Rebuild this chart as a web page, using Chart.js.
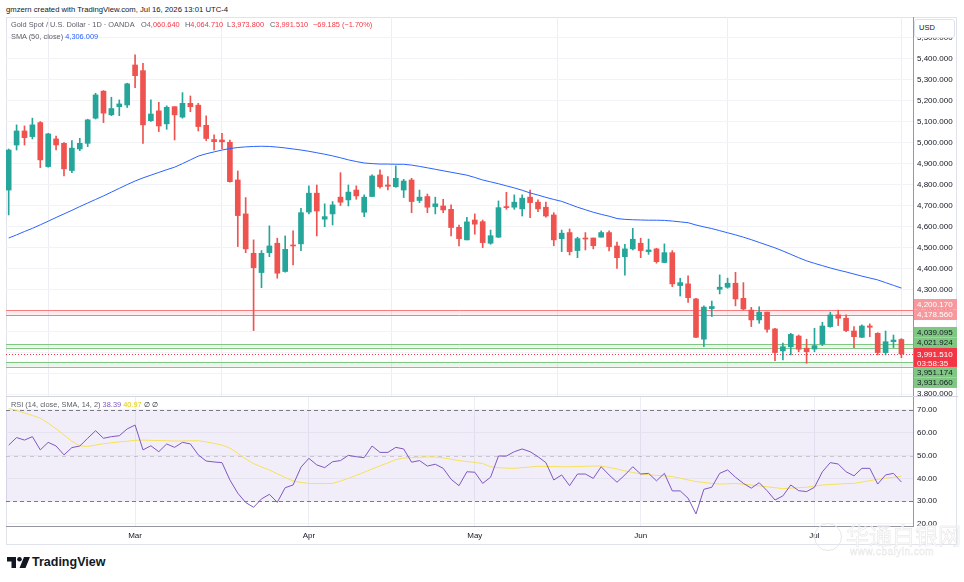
<!DOCTYPE html>
<html lang="en">
<head>
<meta charset="UTF-8" />
<title>Gold Spot / U.S. Dollar · 1D · OANDA</title>
<script src="https://cdn.jsdelivr.net/npm/chart.js"></script>
<style>
  body {
    margin: 0;
    width: 964px;
    height: 582px;
    background: #fff;
    font-family: Arial, "Liberation Sans", sans-serif;
    color: #131722;
    position: relative;
    overflow: hidden;
  }
  .abs { position: absolute; white-space: nowrap; }
  #frame { left: 6px; top: 17px; width: 951px; height: 528px; border: 1px solid #e0e3eb; box-sizing: border-box; }
  #sep { left: 6px; top: 396px; width: 952px; height: 0; border-top: 1px solid #d1d4dc; }
  #hdr { left: 6px; top: 5px; font-size: 7.7px; line-height: 10px; color: #131722; }
  .leg { font-size: 7.4px; line-height: 10px; color: #5d606b; }
  .red { color: #f23645; }
  .blue { color: #2962ff; }
  .purple { color: #7e57c2; }
  .yellow { color: #e6c900; }
  #usd { left: 914px; top: 19px; width: 41px; height: 19px; background: #fff; border: 1px solid #e0e3eb; border-radius: 3px; box-sizing: border-box; font-size: 7.5px; line-height: 15px; padding-left: 4px; }
  #wm { left: 846px; top: 521px; font-family: "Noto Sans CJK SC", sans-serif; font-size: 23px; line-height: 26px; color: rgba(255,255,255,0.6); -webkit-text-stroke: 0.5px #e3e3e3; }
  #wm2 { left: 850px; top: 546px; font-size: 10px; color: rgba(255,255,255,0.6); -webkit-text-stroke: 0.4px #e3e3e3; letter-spacing: 0.5px; }
  #wmc { left: 814px; top: 523px; width: 28px; height: 28px; border: 1.5px solid #e6e6e6; border-radius: 50%; box-sizing: border-box; }
  #tvtext { left: 32px; top: 554px; font-size: 12.5px; font-weight: bold; line-height: 16px; color: #131722; }
</style>
</head>
<body>
  <div id="frame" class="abs"></div>

  <div class="abs" style="left:6px; top:17px;">
    <canvas id="priceChart" width="952" height="380"></canvas>
  </div>
  <div class="abs" style="left:6px; top:397px;">
    <canvas id="rsiChart" width="952" height="149"></canvas>
  </div>
  <div id="sep" class="abs"></div>

  <div id="hdr" class="abs">gmzern created with TradingView.com, Jul 16, 2026 13:01 UTC-4</div>

  <div class="abs leg" style="left:11px; top:20px;">Gold Spot / U.S. Dollar · 1D · OANDA</div>
  <div class="abs leg" style="left:141px; top:20px;">O<span class="red">4,060.640</span></div>
  <div class="abs leg" style="left:185px; top:20px;">H<span class="red">4,064.710</span></div>
  <div class="abs leg" style="left:227px; top:20px;">L<span class="red">3,973.800</span></div>
  <div class="abs leg" style="left:270px; top:20px;">C<span class="red">3,991.510</span></div>
  <div class="abs leg red" style="left:313px; top:20px;">−69.185 (−1.70%)</div>
  <div class="abs leg" style="left:11px; top:32px;">SMA (50, close) <span class="blue">4,306.009</span></div>

  <div class="abs leg" style="left:11px; top:400px;">RSI (14, close, SMA, 14, 2) <span class="purple">38.39</span> <span class="yellow">40.97</span> <span style="color:#131722">∅ ∅</span></div>

  <div id="usd" class="abs">USD</div>

  <div id="wmc" class="abs"></div>
  <div id="wm" class="abs">华通白银网</div>
  <div id="wm2" class="abs">www.cbaiyin.com</div>

  <svg class="abs" style="left:7px; top:557px;" width="24" height="11" viewBox="0 0 24 11">
    <path d="M0 0 H9 V11 H4.5 V4.5 H0 Z" fill="#131722" />
    <circle cx="12.5" cy="2.3" r="2.3" fill="#131722" />
    <path d="M17 0 H23 L18.5 11 H12.5 Z" fill="#131722" />
  </svg>
  <div id="tvtext" class="abs">TradingView</div>

<script>
  // Daily candles, Feb 6 2026 .. Jul 16 2026
  const opens = [
    4774, 4989, 5056, 5029, 5096, 4886, 5018, 4997, 4867, 4970,
    4997, 5117, 5246, 5133, 5172, 5180, 5371, 5344, 5105, 5152,
    5090, 5172, 5122, 5188, 5179, 5083, 5015, 5013, 5002, 4822,
    4660, 4472, 4380, 4475, 4520, 4385, 4510, 4517, 4669, 4759,
    4635, 4660, 4740, 4727, 4774, 4668, 4743, 4846, 4798, 4790,
    4774, 4822, 4724, 4743, 4695, 4698, 4682, 4596, 4536, 4631,
    4623, 4520, 4549, 4695, 4692, 4684, 4740, 4716, 4692, 4655,
    4542, 4571, 4485, 4545, 4545, 4549, 4571, 4507, 4456, 4493,
    4520, 4480, 4493, 4428, 4475, 4318, 4326, 4254, 4062, 4208,
    4300, 4310, 4329, 4257, 4201, 4154, 4191, 4111, 4006, 4026,
    4077, 4019, 4015, 4039, 4122, 4178, 4162, 4101, 4071, 4125,
    4090, 3998, 4050, 4060.64
  ];
  const highs = [
    4970, 5085, 5080, 5117, 5101, 5045, 5032, 5000, 5010, 5021,
    5112, 5236, 5249, 5217, 5204, 5284, 5419, 5379, 5204, 5193,
    5176, 5172, 5239, 5223, 5188, 5128, 5037, 5045, 5013, 4865,
    4738, 4536, 4485, 4603, 4544, 4555, 4579, 4687, 4794, 4798,
    4708, 4719, 4857, 4798, 4794, 4751, 4846, 4870, 4838, 4889,
    4825, 4830, 4774, 4755, 4740, 4730, 4703, 4607, 4644, 4660,
    4631, 4583, 4722, 4763, 4751, 4751, 4774, 4727, 4716, 4666,
    4583, 4588, 4549, 4571, 4545, 4579, 4579, 4525, 4515, 4591,
    4544, 4540, 4496, 4517, 4485, 4353, 4364, 4257, 4221, 4244,
    4369, 4353, 4381, 4332, 4214, 4217, 4191, 4114, 4043, 4090,
    4082, 4062, 4114, 4143, 4191, 4201, 4178, 4122, 4130, 4135,
    4093, 4101, 4082, 4064.71
  ];
  const lows = [
    4655, 4965, 4989, 5018, 4881, 4883, 4965, 4841, 4857, 4962,
    4981, 5113, 5096, 5129, 5129, 5168, 5263, 4997, 5102, 5053,
    5064, 5013, 5117, 5148, 5056, 5010, 4965, 4972, 4811, 4504,
    4475, 4103, 4308, 4456, 4353, 4382, 4416, 4485, 4660, 4555,
    4599, 4607, 4700, 4698, 4730, 4647, 4743, 4783, 4774, 4787,
    4738, 4666, 4714, 4666, 4660, 4666, 4555, 4507, 4536, 4563,
    4499, 4515, 4547, 4682, 4682, 4650, 4642, 4671, 4644, 4508,
    4480, 4464, 4451, 4488, 4493, 4549, 4483, 4400, 4368, 4488,
    4451, 4467, 4425, 4428, 4313, 4268, 4237, 4069, 4026, 4170,
    4278, 4305, 4221, 4201, 4122, 4138, 4095, 3960, 3963, 3987,
    4002, 3947, 4002, 4031, 4119, 4127, 4098, 4022, 4069, 4074,
    3987, 3987, 4022, 3973.8
  ];
  const closes = [
    4965, 5056, 5024, 5085, 4918, 5042, 4989, 4875, 4974, 4997,
    5109, 5228, 5141, 5163, 5185, 5281, 5320, 5085, 5137, 5080,
    5169, 5133, 5188, 5172, 5077, 5020, 5005, 5004, 4814, 4652,
    4493, 4403, 4472, 4507, 4377, 4491, 4507, 4666, 4759, 4674,
    4647, 4703, 4716, 4764, 4746, 4740, 4841, 4790, 4792, 4830,
    4817, 4719, 4740, 4692, 4708, 4679, 4595, 4542, 4622, 4611,
    4523, 4556, 4690, 4690, 4716, 4735, 4714, 4684, 4650, 4536,
    4568, 4480, 4542, 4540, 4508, 4571, 4504, 4451, 4493, 4539,
    4485, 4488, 4432, 4475, 4326, 4332, 4260, 4071, 4215, 4218,
    4310, 4329, 4254, 4206, 4154, 4191, 4109, 3998, 4026, 4085,
    4014, 4002, 4031, 4125, 4178, 4162, 4103, 4074, 4125, 4119,
    3998, 4050, 4058, 3991.51
  ];

  // SMA (50, close) as drawn
  const sma50 = [
    4545, 4560, 4576, 4591, 4608, 4625, 4643, 4660, 4677, 4695,
    4712, 4729, 4746, 4764, 4782, 4800, 4817, 4832, 4845, 4858,
    4871, 4883, 4900, 4918, 4936, 4947, 4956, 4965, 4972, 4977,
    4980, 4982, 4983, 4982, 4979, 4975, 4970, 4965, 4959, 4952,
    4945, 4937, 4928, 4918, 4910, 4903, 4900, 4898, 4898, 4897,
    4897, 4893, 4887, 4880, 4873, 4866, 4859, 4852, 4845, 4834,
    4822, 4813, 4804, 4794, 4784, 4773, 4760, 4750, 4739, 4729,
    4720, 4706, 4692, 4680, 4668, 4658, 4649, 4638, 4634, 4632,
    4631, 4630, 4630, 4629, 4626, 4622, 4618, 4607, 4598, 4590,
    4580, 4570, 4560, 4549, 4537, 4524, 4511, 4498, 4483, 4467,
    4451, 4436, 4424, 4413, 4402, 4392, 4383, 4373, 4363, 4354,
    4345, 4332, 4319, 4306.009
  ];

  // RSI (14) and its SMA (14)
  const rsi = [
    54.6, 57.9, 56.8, 58.3, 52.5, 55.8, 54.2, 50.3, 53.5, 54.2,
    57.6, 60.9, 57.6, 58.3, 58.7, 61.7, 63.4, 52.5, 54.3, 51.7,
    55.1, 53.6, 55.8, 55.1, 50.3, 47.6, 47.2, 46.9, 39.3, 33.5,
    29.4, 27.3, 31.0, 33.0, 29.5, 35.9, 37.1, 44.9, 48.8, 45.9,
    44.7, 47.3, 47.8, 50.1, 49.5, 49.1, 54.2, 51.4, 51.4, 53.6,
    52.9, 47.1, 47.8, 45.4, 46.2, 44.4, 39.6, 36.8, 42.9, 42.7,
    37.8, 40.5, 49.8, 49.8, 51.7, 52.9, 51.7, 49.5, 46.9, 39.3,
    41.5, 36.8, 41.9, 41.9, 40.0, 45.1, 41.5, 38.3, 41.5, 45.1,
    41.9, 42.2, 38.9, 42.2, 34.5, 34.5, 31.3, 24.4, 35.2, 36.1,
    42.2, 43.7, 40.5, 37.8, 35.7, 38.1, 34.6, 30.5, 32.3, 37.1,
    34.6, 34.2, 36.1, 42.9, 46.9, 46.3, 42.9, 41.1, 44.4, 44.4,
    37.5, 41.5, 42.2, 38.39
  ];
  const rsiSma = [
    70.7, 69.8, 68.7, 67.6, 66.4, 64.2, 61.8, 59.0, 56.3, 54.3,
    54.0, 54.6, 55.2, 55.6, 56.0, 56.3, 56.7, 56.8, 56.7, 56.6,
    56.5, 56.4, 56.4, 56.5, 56.5, 56.0, 55.3, 54.6, 53.3, 51.0,
    48.5, 46.5, 45.0, 43.7, 42.0, 40.4, 38.9, 38.2, 37.8, 37.7,
    37.7, 37.8, 38.8, 40.0, 41.3, 42.7, 44.1, 45.5, 46.8, 48.2,
    48.9, 49.1, 49.3, 49.4, 49.4, 49.0, 48.4, 47.8, 47.4, 47.0,
    46.5, 45.1, 44.7, 44.5, 44.4, 44.7, 45.0, 45.3, 45.2, 45.2,
    45.1, 45.1, 45.2, 45.3, 45.4, 45.4, 44.8, 44.1, 43.3, 42.6,
    41.9, 41.6, 41.3, 41.1, 40.8, 40.1, 39.3, 38.6, 38.2, 37.8,
    37.5, 37.6, 37.8, 37.4, 37.1, 36.7, 36.3, 35.9, 35.5, 35.7,
    35.9, 36.1, 36.6, 37.1, 37.3, 37.5, 37.7, 37.8, 38.4, 39.0,
    39.6, 40.1, 40.5, 40.97
  ];

  // time axis: bar index of the first session of each month
  const monthIdx = [16, 38, 59, 80, 102];
  const monthLabels = ['Mar', 'Apr', 'May', 'Jun', 'Jul'];

  const priceTicks = [3800, 3900, 4000, 4100, 4200, 4300, 4400, 4500, 4600, 4700,
                      4800, 4900, 5000, 5100, 5200, 5300, 5400, 5500];
  const rsiTicks = [20, 30, 40, 50, 60, 70];

  // drawn horizontal levels
  const resistanceLevels = [4200.17, 4178.56];
  const supportUpper = [4039.095, 4021.924];
  const supportLower = [3951.174, 3931.06];
  const lastPrice = 3991.51;
  const countdown = '03:58:35';

  const UP = '#26a69a';
  const DOWN = '#ef5350';
  const FONT = 'Arial, "Liberation Sans", sans-serif';
  const AXIS_W = 45;
  const X_MIN = -0.34;
  const X_MAX = 114.47;

  const idx = closes.map((c, i) => i);
  const candleColors = idx.map(i => closes[i] >= opens[i] ? UP : DOWN);

  const fmt3 = v => v.toLocaleString('en-US', { minimumFractionDigits: 3, maximumFractionDigits: 3 });

  Chart.defaults.font.family = FONT;

  // bands, level lines and their price boxes
  const levelsPlugin = {
    id: 'levels',
    beforeDatasetsDraw(chart) {
      const { ctx, chartArea: a, scales: { y } } = chart;
      ctx.save();
      const band = (pair, fill, stroke) => {
        const y1 = y.getPixelForValue(pair[0]);
        const y2 = y.getPixelForValue(pair[1]);
        ctx.fillStyle = fill;
        ctx.fillRect(a.left, y1, a.right - a.left, y2 - y1);
        ctx.strokeStyle = stroke;
        ctx.lineWidth = 1;
        [y1, y2].forEach(yy => {
          ctx.beginPath();
          ctx.moveTo(a.left, Math.round(yy) + 0.5);
          ctx.lineTo(a.right, Math.round(yy) + 0.5);
          ctx.stroke();
        });
      };
      band(resistanceLevels, 'rgba(242,54,69,0.10)', '#f77c80');
      band(supportUpper, 'rgba(76,175,80,0.12)', '#81c784');
      band(supportLower, 'rgba(76,175,80,0.12)', '#81c784');
      ctx.restore();
    },
    afterDatasetsDraw(chart) {
      const { ctx, chartArea: a, scales: { y } } = chart;
      const yl = Math.round(y.getPixelForValue(lastPrice)) + 0.5;
      ctx.save();
      ctx.strokeStyle = '#f23645';
      ctx.setLineDash([1, 2]);
      ctx.beginPath();
      ctx.moveTo(a.left, yl);
      ctx.lineTo(a.right, yl);
      ctx.stroke();
      ctx.restore();
    },
    afterDraw(chart) {
      const { ctx, chartArea: a, scales: { y } } = chart;
      const h = 10.5;
      const x0 = a.right + 1;
      const w = AXIS_W - 2;
      ctx.save();
      ctx.font = '8px ' + FONT;
      ctx.textBaseline = 'middle';

      const yc = y.getPixelForValue(lastPrice);
      const curTop = yc - 6;
      const curBot = curTop + 19;

      const boxes = [];
      const all = [
        ...resistanceLevels.map(v => ({ v, bg: '#f7989d', fg: '#ffffff' })),
        ...supportUpper.map(v => ({ v, bg: '#81c784', fg: '#131722' })),
        ...supportLower.map(v => ({ v, bg: '#81c784', fg: '#131722' }))
      ];
      const above = all.filter(o => o.v > lastPrice).sort((p, q) => p.v - q.v);
      const below = all.filter(o => o.v < lastPrice).sort((p, q) => q.v - p.v);
      let prevTop = curTop;
      above.forEach(o => {
        const c = Math.min(y.getPixelForValue(o.v), prevTop - h / 2);
        boxes.push({ ...o, c });
        prevTop = c - h / 2;
      });
      let prevBot = curBot;
      below.forEach(o => {
        const c = Math.max(y.getPixelForValue(o.v), prevBot + h / 2);
        boxes.push({ ...o, c });
        prevBot = c + h / 2;
      });

      boxes.forEach(b => {
        ctx.fillStyle = b.bg;
        ctx.fillRect(x0, b.c - h / 2, w, h);
      });
      boxes.forEach(b => {
        ctx.fillStyle = b.fg;
        ctx.fillText(fmt3(b.v), x0 + 3, b.c + 0.5);
      });

      ctx.fillStyle = '#f23645';
      ctx.fillRect(x0, curTop, w, curBot - curTop);
      ctx.fillStyle = '#ffffff';
      ctx.fillText(fmt3(lastPrice), x0 + 3, yc + 0.5);
      ctx.fillText(countdown, x0 + 3, yc + 9.5);
      ctx.restore();
    }
  };

  // RSI background band and 70 / 50 / 30 lines
  const rsiBandPlugin = {
    id: 'rsiBand',
    beforeDatasetsDraw(chart) {
      const { ctx, chartArea: a, scales: { y } } = chart;
      const y70 = y.getPixelForValue(70);
      const y30 = y.getPixelForValue(30);
      const y50 = y.getPixelForValue(50);
      ctx.save();
      ctx.fillStyle = 'rgba(126,87,194,0.10)';
      ctx.fillRect(a.left, y70, a.right - a.left, y30 - y70);
      ctx.lineWidth = 1;
      ctx.strokeStyle = '#787b86';
      ctx.setLineDash([4, 3]);
      [y70, y30].forEach(yy => {
        ctx.beginPath();
        ctx.moveTo(a.left, Math.round(yy) + 0.5);
        ctx.lineTo(a.right, Math.round(yy) + 0.5);
        ctx.stroke();
      });
      ctx.strokeStyle = 'rgba(120,123,134,0.35)';
      ctx.setLineDash([4, 4]);
      ctx.beginPath();
      ctx.moveTo(a.left, Math.round(y50) + 0.5);
      ctx.lineTo(a.right, Math.round(y50) + 0.5);
      ctx.stroke();
      ctx.restore();
    }
  };

  const xScale = showLabels => ({
    type: 'linear',
    min: X_MIN,
    max: X_MAX,
    offset: false,
    afterBuildTicks: s => { s.ticks = monthIdx.map(v => ({ value: v })); },
    afterFit: s => {
      s.height = showLabels ? 20 : 0;
      s.paddingLeft = 0;
      s.paddingRight = 0;
    },
    ticks: {
      display: showLabels,
      autoSkip: false,
      maxRotation: 0,
      padding: 5,
      color: '#131722',
      font: { size: 8 },
      callback: v => monthLabels[monthIdx.indexOf(v)]
    },
    grid: { color: '#eceef3', drawTicks: false },
    border: { display: showLabels, color: '#9598a1' }
  });

  const yFit = s => {
    s.width = AXIS_W;
    s.paddingTop = 0;
    s.paddingBottom = 0;
  };

  new Chart(document.getElementById('priceChart'), {
    type: 'bar',
    data: {
      datasets: [
        {
          type: 'line',
          data: idx.map(i => ({ x: i, y: sma50[i] })),
          borderColor: '#2962ff',
          borderWidth: 1,
          pointRadius: 0,
          tension: 0,
          order: 1
        },
        {
          data: idx.map(i => ({ x: i, y: [opens[i], closes[i]] })),
          backgroundColor: candleColors,
          barThickness: 5,
          minBarLength: 1,
          grouped: false,
          order: 2
        },
        {
          data: idx.map(i => ({ x: i, y: [lows[i], highs[i]] })),
          backgroundColor: candleColors,
          barThickness: 1,
          grouped: false,
          order: 3
        }
      ]
    },
    options: {
      responsive: false,
      animation: false,
      events: [],
      layout: { padding: 0 },
      plugins: { legend: { display: false }, tooltip: { enabled: false } },
      scales: {
        x: xScale(false),
        y: {
          position: 'right',
          min: 3786,
          max: 5600,
          afterBuildTicks: s => { s.ticks = priceTicks.map(v => ({ value: v })); },
          afterFit: yFit,
          ticks: { padding: 4, color: '#131722', font: { size: 8 }, callback: v => fmt3(v) },
          grid: { color: '#f2f3f7', drawTicks: false },
          border: { color: '#9598a1' }
        }
      }
    },
    plugins: [levelsPlugin]
  });

  new Chart(document.getElementById('rsiChart'), {
    type: 'line',
    data: {
      datasets: [
        {
          data: idx.map(i => ({ x: i, y: rsi[i] })),
          borderColor: '#7e57c2',
          borderWidth: 1,
          pointRadius: 0,
          tension: 0,
          order: 1
        },
        {
          data: idx.map(i => ({ x: i, y: rsiSma[i] })),
          borderColor: '#f5e15a',
          borderWidth: 1,
          pointRadius: 0,
          tension: 0,
          order: 2
        }
      ]
    },
    options: {
      responsive: false,
      animation: false,
      events: [],
      layout: { padding: 0 },
      plugins: { legend: { display: false }, tooltip: { enabled: false } },
      scales: {
        x: xScale(true),
        y: {
          position: 'right',
          min: 19.1,
          max: 75.7,
          afterBuildTicks: s => { s.ticks = rsiTicks.map(v => ({ value: v })); },
          afterFit: yFit,
          ticks: { padding: 4, color: '#131722', font: { size: 8 }, callback: v => v.toFixed(2) },
          grid: { color: '#f2f3f7', drawTicks: false },
          border: { color: '#9598a1' }
        }
      }
    },
    plugins: [rsiBandPlugin]
  });
</script>
</body>
</html>
